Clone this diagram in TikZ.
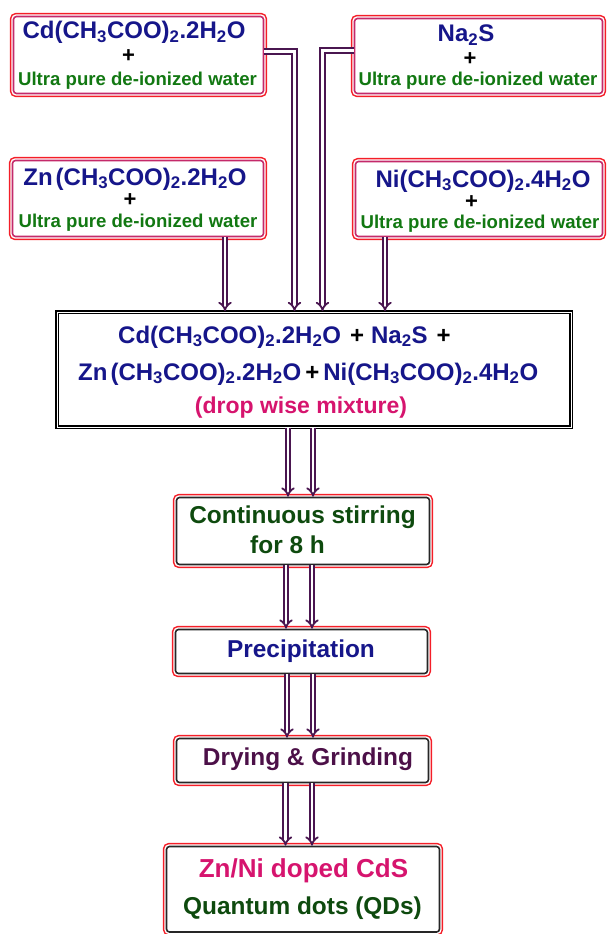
\documentclass[tikz,border=0pt]{standalone}
\usepackage{fontspec}
\setmainfont{Liberation Sans}
\usetikzlibrary{arrows.meta}
\definecolor{navyc}{HTML}{16168A}
\definecolor{greenc}{HTML}{127812}
\definecolor{dgreenc}{HTML}{0E4A0E}
\definecolor{magc}{HTML}{D6146E}
\definecolor{purpc}{HTML}{4C1048}
\definecolor{arrowc}{HTML}{4A1650}
\definecolor{redc}{HTML}{F41E28}
\definecolor{pinkc}{HTML}{C42A6A}
\definecolor{darkc}{HTML}{262626}
\newcommand{\sbs}[1]{\textsubscript{#1}}
\newcommand{\fs}[1]{\fontsize{#1}{#1}\selectfont}
\begin{document}
\begin{tikzpicture}[x=1pt,y=-1pt,
  boxbase/.style={rectangle, rounded corners=3pt, fill=white, inner sep=0pt, line width=1.6pt,
    preaction={draw=redc, line width=7.4pt}, preaction={draw=white, line width=4.4pt}},
  topbox/.style={boxbase, draw=pinkc},
  lowbox/.style={boxbase, draw=darkc},
  midbox/.style={rectangle, fill=white, inner sep=0pt, draw=black, line width=1.7pt, double=white, double distance=1pt},
  conn/.style={draw=arrowc, line width=1.8pt, double=white, double distance=2.6pt, -{Implies}},
  ftxt/.style={anchor=base, inner sep=0pt, font=\bfseries\fs{24}, text=navyc},
  wtxt/.style={anchor=base, inner sep=0pt, font=\bfseries\fs{18.6}, text=greenc},
  plustxt/.style={anchor=center, inner sep=0pt, font=\bfseries\fs{22}, text=black},
  ltxt/.style={anchor=base, inner sep=0pt, font=\bfseries\fs{24.4}}
]
\useasboundingbox (0,0) rectangle (606,934);
% boxes
\node[topbox, minimum width=250pt, minimum height=77pt] (cdbox) at (138.5,55) {};
\node[topbox, minimum width=248pt, minimum height=75pt] (nabox) at (478.5,56) {};
\node[topbox, minimum width=251pt, minimum height=76pt] (znbox) at (138,198.5) {};
\node[topbox, minimum width=247pt, minimum height=75pt] (nibox) at (479,199) {};
\node[midbox, minimum width=514pt, minimum height=115pt] (mix) at (314,369.5) {};
\node[lowbox, minimum width=253pt, minimum height=67pt] (stir) at (303,531) {};
\node[lowbox, minimum width=252pt, minimum height=44pt] (prec) at (301.5,651.5) {};
\node[lowbox, minimum width=252pt, minimum height=44pt] (dry) at (302.5,760.5) {};
\node[lowbox, minimum width=273pt, minimum height=85.5pt] (qd) at (303,889.25) {};
% top box texts
\node[ftxt] (cdt) at (134,39) {Cd(CH\sbs{3}COO)\sbs{2}.2H\sbs{2}O};
\node[plustxt] (cdp) at (128.5,56) {+};
\node[wtxt] (cdw) at (137.5,85) {Ultra pure de-ionized water};
\node[ftxt] (nat) at (466,41.7) {Na\sbs{2}S};
\node[plustxt] (nap) at (470,59) {+};
\node[wtxt] (naw) at (478,85) {Ultra pure de-ionized water};
\node[ftxt] (znt) at (135,185) {Zn\hspace{3pt}(CH\sbs{3}COO)\sbs{2}.2H\sbs{2}O};
\node[plustxt] (znp) at (130,200) {+};
\node[wtxt] (znw) at (138,227) {Ultra pure de-ionized water};
\node[ftxt] (nit) at (483,187) {Ni(CH\sbs{3}COO)\sbs{2}.4H\sbs{2}O};
\node[plustxt] (nip) at (471.5,202) {+};
\node[wtxt] (niw) at (480,228) {Ultra pure de-ionized water};
% mixture texts
\node[ftxt, anchor=base west] (mix1) at (118,343) {Cd(CH\sbs{3}COO)\sbs{2}.2H\sbs{2}O\hspace{9pt}\textcolor{black}{+}\hspace{7pt}Na\sbs{2}S\hspace{9pt}\textcolor{black}{+}};
\node[ftxt, anchor=base west] (mix2) at (78,380) {Zn\hspace{3pt}(CH\sbs{3}COO)\sbs{2}.2H\sbs{2}O\hspace{4pt}\textcolor{black}{+}\hspace{4pt}Ni(CH\sbs{3}COO)\sbs{2}.4H\sbs{2}O};
\node[ltxt, font=\bfseries\fs{23}, text=magc] (mix3) at (301,413) {(drop wise mixture)};
% lower texts
\node[ltxt, text=dgreenc] (st1) at (302.5,523) {Continuous stirring};
\node[ltxt, text=dgreenc] (st2) at (287.5,553) {for 8 h};
\node[ltxt, text=navyc] (prt) at (301,657) {Precipitation};
\node[ltxt, text=purpc] (drt) at (308,765) {Drying \& Grinding};
\node[ltxt, font=\bfseries\fs{26}, text=magc] (qd1) at (303.5,877) {Zn/Ni doped CdS};
\node[ltxt, text=dgreenc] (qd2) at (302.5,914) {Quantum dots (QDs)};
% connectors
\draw[conn] ([yshift=3.5pt]cdbox.east) -| ([xshift=-19.5pt]mix.north);
\draw[conn] ([yshift=5.5pt]nabox.west) -| ([xshift=8.5pt]mix.north);
\draw[conn] ([xshift=87pt]znbox.south) -- ([xshift=87pt]znbox.south |- mix.north);
\draw[conn] ([xshift=-94pt]nibox.south) -- ([xshift=-94pt]nibox.south |- mix.north);
\draw[conn] ([xshift=-15pt]stir.north |- mix.south) -- ([xshift=-15pt]stir.north);
\draw[conn] ([xshift=10pt]stir.north |- mix.south) -- ([xshift=10pt]stir.north);
\draw[conn] ([xshift=-15.5pt]prec.north |- stir.south) -- ([xshift=-15.5pt]prec.north);
\draw[conn] ([xshift=10.5pt]prec.north |- stir.south) -- ([xshift=10.5pt]prec.north);
\draw[conn] ([xshift=-15.5pt]dry.north |- prec.south) -- ([xshift=-15.5pt]dry.north);
\draw[conn] ([xshift=10.5pt]dry.north |- prec.south) -- ([xshift=10.5pt]dry.north);
\draw[conn] ([xshift=-17.5pt]qd.north |- dry.south) -- ([xshift=-17.5pt]qd.north);
\draw[conn] ([xshift=9pt]qd.north |- dry.south) -- ([xshift=9pt]qd.north);
\end{tikzpicture}
\end{document}
